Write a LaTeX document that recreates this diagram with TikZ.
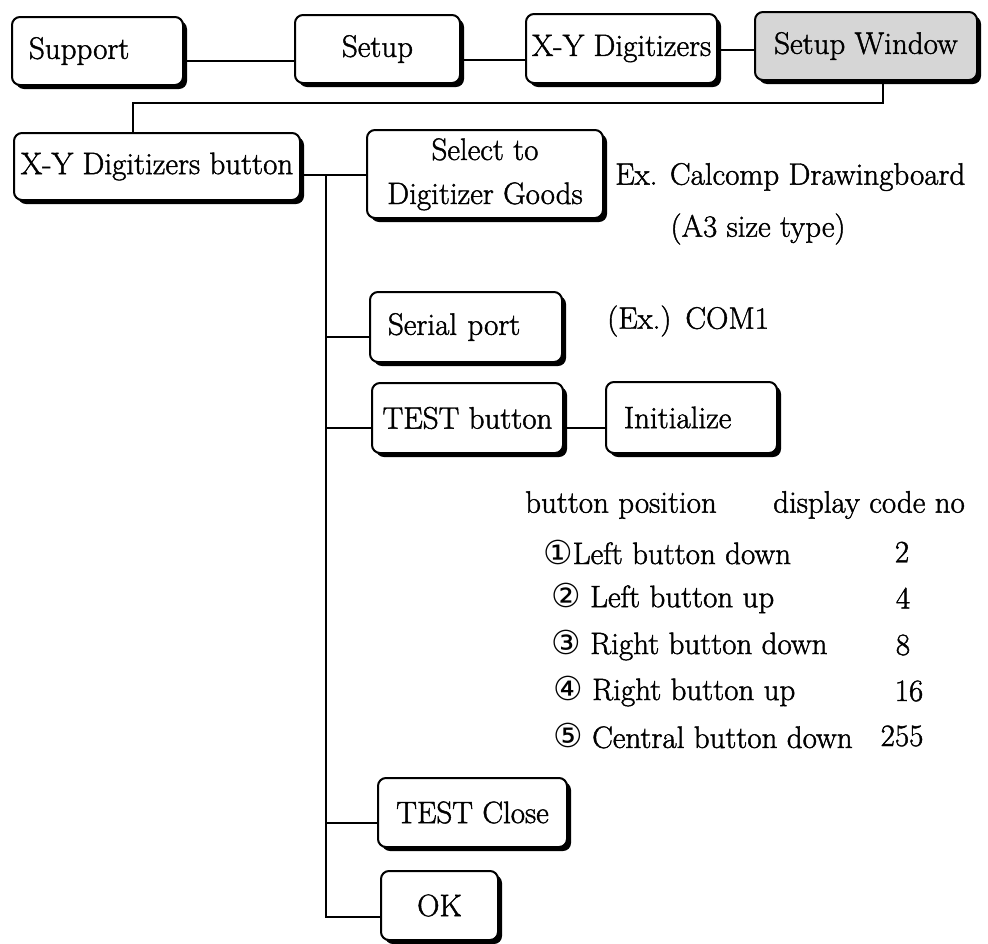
\documentclass[tikz,border=0pt]{standalone}
\usepackage{fontspec}
\setmainfont{Latin Modern Roman}
\newfontfamily\labfont{Latin Modern Roman}[FakeBold=1.4]
\newfontfamily\circfont{DejaVu Sans}
\usetikzlibrary{shadows}

\newcommand{\lab}{\labfont\fontsize{31}{40}\selectfont}
\newcommand{\numcirc}[1]{{\circfont\fontsize{33}{34}\selectfont #1}}

\tikzset{
  box/.style={draw=black, line width=2pt, rounded corners=8pt, fill=white,
    drop shadow={shadow xshift=4pt, shadow yshift=-4pt, fill=black, opacity=1},
    inner sep=0pt, align=center, font=\lab},
  greybox/.style={box, fill=black!16},
  link/.style={line width=1.4pt},
  trunkline/.style={line width=2.4pt},
  note/.style={inner sep=0pt, font=\lab},
}

\begin{document}
\begin{tikzpicture}[x=1pt, y=-1pt]
\useasboundingbox (0,0) rectangle (988,943);

% menu path across the top
\node[box, minimum width=171pt, minimum height=68pt, align=left,
      text width=137pt, inner xsep=17pt] (sup) at (97.5,51) {Support};
\node[box, minimum width=165pt, minimum height=68pt] (setup) at (377.5,49) {Setup};
\node[box, minimum width=191pt, minimum height=69pt] (xy) at (621.5,48.5) {X-Y Digitizers};
\node[greybox, minimum width=222pt, minimum height=68pt] (sw) at (866,46) {Setup Window};

% dialog and its controls
\node[box, minimum width=286pt, minimum height=67pt] (xydb) at (157,166.5) {X-Y Digitizers button};
\node[box, minimum width=236pt, minimum height=88pt] (sel) at (485,174)
  {\raisebox{-5pt}{\begin{tabular}{@{}c@{}}Select to\\[4pt]Digitizer Goods\end{tabular}}};
\node[box, minimum width=192pt, minimum height=70pt, align=left,
      text width=156pt, inner xsep=18pt] (serial) at (466,327) {Serial port};
\node[box, minimum width=191pt, minimum height=70pt] (testb) at (467.5,418) {TEST button};
\node[box, minimum width=171pt, minimum height=71pt, align=left,
      text width=135pt, inner xsep=18pt] (init) at (691.5,417.5) {Initialize};
\node[box, minimum width=189pt, minimum height=69pt] (tclose) at (472.5,812.5) {TEST Close};
\node[box, minimum width=117pt, minimum height=69pt] (ok) at (439.5,905.5) {OK};

% notes
\node[note, anchor=west] (ex) at (615,177) {Ex. Calcomp Drawingboard};
\node[note] (a3) at (758,229) {(A3 size type)};
\node[note, anchor=west] (com) at (607,321) {(Ex.)\hspace{14pt}COM1};

% button code table
\node[note, anchor=west] (hpos) at (525,505) {button position};
\node[note, anchor=west] (hcode) at (773,505) {display code no};
\node[note, anchor=west] (r1) at (543,552) {\numcirc{①}Left button down};
\node[note, anchor=west] (r2) at (551,598) {\numcirc{②} Left button up};
\node[note, anchor=west] (r3) at (551,645) {\numcirc{③} Right button down};
\node[note, anchor=west] (r4) at (553,691) {\numcirc{④} Right button up};
\node[note, anchor=west] (r5) at (553,736) {\numcirc{⑤} Central button down};
\node[note] (c1) at (902,552) {2};
\node[note] (c2) at (903,598) {4};
\node[note] (c3) at (903,645) {8};
\node[note] (c4) at (909,691) {16};
\node[note] (c5) at (902,736) {255};

% top row connectors
\coordinate (p1) at ([yshift=-10pt]sup.east);
\draw[link] (p1) -- (p1 -| setup.west);
\coordinate (p2) at ([yshift=-11pt]setup.east);
\draw[link] (p2) -- (p2 -| xy.west);
\coordinate (p3) at ([yshift=-1.5pt]xy.east);
\draw[link] (p3) -- (p3 -| sw.west);

% from the setup window down to the dialog button
\draw[link] ([xshift=17pt]sw.south) -- ++(0,22) -| ([xshift=-24pt]xydb.north);

% dialog button to its controls
\coordinate (p4) at ([yshift=-8.5pt]xydb.east);
\draw[link] (p4) -- (p4 -| sel.west);
\coordinate (trunk) at (326,175);
\coordinate (okin) at ([yshift=-11.5pt]ok.west);
\draw[trunkline] (trunk) |- (okin);
\coordinate (serin) at ([yshift=-10pt]serial.west);
\draw[link] (serin) -- (serin -| trunk);
\coordinate (testin) at ([yshift=-10pt]testb.west);
\draw[link] (testin) -- (testin -| trunk);
\coordinate (closein) at ([yshift=-10.5pt]tclose.west);
\draw[link] (closein) -- (closein -| trunk);
\coordinate (p5) at ([yshift=-10pt]testb.east);
\draw[link] (p5) -- (p5 -| init.west);
\end{tikzpicture}
\end{document}
